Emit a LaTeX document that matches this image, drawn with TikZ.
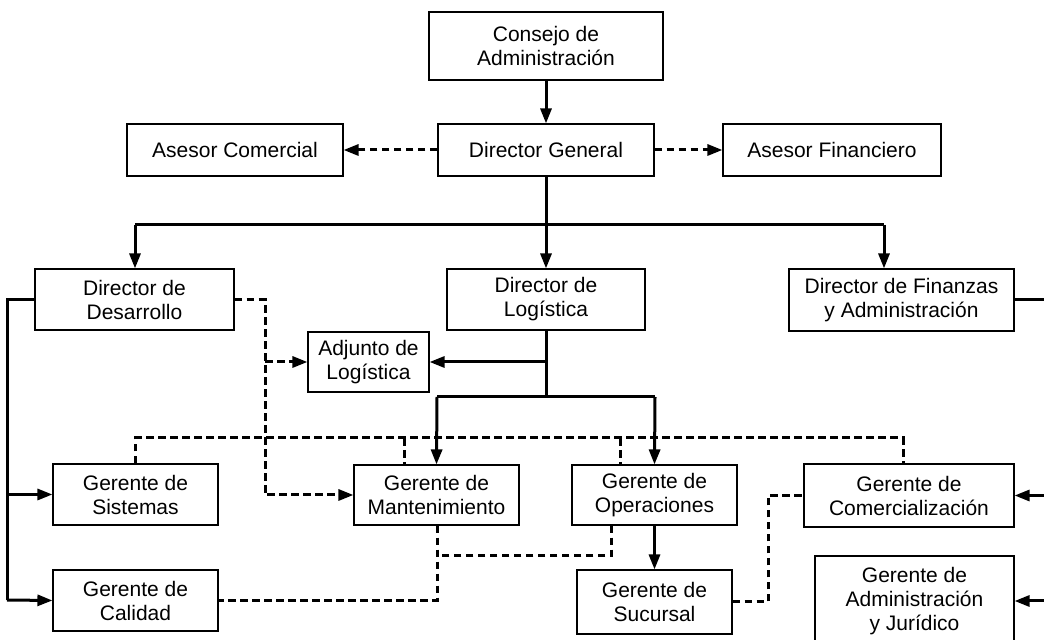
\documentclass[tikz,border=0pt]{standalone}
\usepackage{fontspec}
\setmainfont{Liberation Sans}
\usetikzlibrary{arrows.meta}

% one box of the chart, given by its corners (x1,y1) and (x2,y2)
\newcommand\orgbox[6]{%
  \node[box, minimum width={(#4-#2)*0.5pt}, minimum height={(#5-#3)*0.5pt}]
    (#1) at ({(#2+#4)/2},{(#3+#5)/2}) {#6};}

\begin{document}
\begin{tikzpicture}[x=0.5pt, y=-0.5pt,
  box/.style={draw, line width=0.55pt, inner sep=0pt, align=center,
              font=\fontsize{10.5}{12}\selectfont},
  link/.style={line width=1.5pt},
  aux/.style={line width=1.5pt, dash pattern=on 3.8pt off 2.2pt},
  tip/.style={-{Triangle[length=7.5pt, width=5.5pt]}}]

\useasboundingbox (0,0) rectangle (1044,640);

% boxes
\orgbox{cons}{429}{12}{663}{80}{Consejo de\\Administración}
\orgbox{dg}{438}{124}{654}{176}{Director General}
\orgbox{ac}{127}{124}{343}{176}{Asesor Comercial}
\orgbox{af}{723}{124}{941}{176}{Asesor Financiero}
\orgbox{dd}{35}{269}{234}{330}{Director de\\Desarrollo}
\orgbox{dl}{447}{269}{645}{330}{Director de\\Logística}
\orgbox{df}{789}{269}{1014}{331}{Director de Finanzas\\y Administración}
\orgbox{adj}{308}{332}{429}{392}{Adjunto de\\Logística}
\orgbox{gs}{53}{464}{218}{525}{Gerente de\\Sistemas}
\orgbox{gm}{354}{465}{519}{525}{Gerente de\\Mantenimiento}
\orgbox{go}{572}{465}{737}{525}{Gerente de\\Operaciones}
\orgbox{gc}{804}{464}{1014}{527}{Gerente de\\Comercialización}
\orgbox{gcal}{53}{570}{218}{631}{Gerente de\\Calidad}
\orgbox{gsuc}{577}{570}{732}{634}{Gerente de\\Sucursal}
\orgbox{gadm}{815}{556}{1014}{646}{Gerente de\\Administración\\y Jurídico}

% bend points of the connectors
\coordinate (busL) at (135,225);
\coordinate (busR) at (884,225);
\coordinate (lj) at (546,362);
\coordinate (lb) at (546,397);
\coordinate (lbL) at (437,397);
\coordinate (lbR) at (655,397);
\coordinate (spine) at (7,600);
\coordinate (re) at (1044,0);
\coordinate (dx) at (265,0);
\coordinate (dbR) at (903,438);
\coordinate (m1) at (404,438);
\coordinate (o1) at (620,438);
\coordinate (mb) at (437,0);
\coordinate (ob) at (611,556);
\coordinate (sx) at (768,0);

% solid lines of authority
\draw[link, tip] (cons.south) -- (dg.north);
\draw[link, tip] (dg.south) -- (dl.north);
\draw[link] (busL) -- (busR);
\draw[link, tip] (busL) -- (dd.north -| busL);
\draw[link, tip] (busR) -- (df.north -| busR);

\draw[link] (dl.south) -- (lb);
\draw[link, tip] (lj) -- (adj.east);
\draw[link] (lbL) -- (lbR);
\draw[link, tip] (lbL) -- (gm.north);
\draw[link, tip] (lbR) -- (go.north);
\draw[link, tip] (go.south) -- (gsuc.north);

\draw[link] (dd.west) -| (spine);
\draw[link, tip] (gs.west -| spine) -- (gs.west);
\draw[link, tip] (spine) -- (gcal.west);

\draw[link] (df.east) -- (df.east -| re);
\draw[link, tip] (gc.east -| re) -- (gc.east);
\draw[link, tip] (gadm.east -| re) -- (gadm.east);

% dashed lines of coordination
\draw[aux, tip] (dg.west) -- (ac.east);
\draw[aux, tip] (dg.east) -- (af.west);
\draw[aux, tip] (dd.east) -| (dx |- gm.west) -- (gm.west);
\draw[aux, tip] (dx |- adj.west) -- (adj.west);

\draw[aux] (gs.north) |- (dbR) -- (gc.north -| dbR);
\draw[aux] (m1) -- (gm.north -| m1);
\draw[aux] (o1) -- (go.north -| o1);

\draw[aux] (gm.south -| mb) |- (gcal.east);
\draw[aux] (go.south -| ob) |- (mb |- ob);
\draw[aux] (gsuc.east) -| (sx |- gc.west) -- (gc.west);

\end{tikzpicture}
\end{document}
